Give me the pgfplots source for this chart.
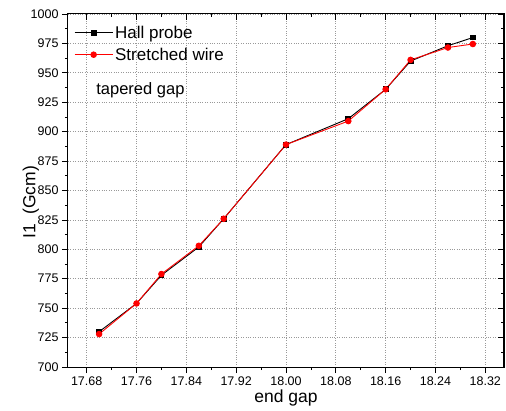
\documentclass[border=0pt]{standalone}
\usepackage{pgfplots}
\pgfplotsset{compat=1.18}
\usepackage{fontspec}
\setmainfont{Liberation Sans}

\begin{document}
\begin{tikzpicture}
\pgfplotsset{
  frame/.style={
    scale only axis, width=436pt, height=353pt,
    xmin=17.65, xmax=18.35, ymin=700, ymax=1000,
    xtick={17.68,17.76,17.84,17.92,18.00,18.08,18.16,18.24,18.32},
    ytick={700,725,750,775,800,825,850,875,900,925,950,975,1000},
    minor x tick num=1, minor y tick num=1,
    major tick length=6pt, minor tick length=3pt,
    every tick/.style={black, line width=0.8pt},
    axis line style={line width=1pt},
  },
}
% main axis: data, grid, labels, outward ticks on bottom and left
\begin{axis}[frame,
  xtick pos=bottom, ytick pos=left, tick align=outside,
  xticklabels={17.68,17.76,17.84,17.92,18.00,18.08,18.16,18.24,18.32},
  yticklabel style={/pgf/number format/1000 sep={}},
  /pgf/number format/assume math mode=true,
  ticklabel style={font=\fontsize{12.5}{15}\selectfont},
  xmajorgrids, ymajorgrids,
  grid style={gray!80, dotted, line width=0.7pt},
  xlabel={end gap}, ylabel={I1\kern9pt(Gcm)},
  label style={font=\fontsize{17.5}{20}\selectfont},
  x label style={at={(axis description cs:0.5,-0.088)}, anchor=center},
  y label style={at={(axis description cs:-0.085,0.467)}, anchor=center},
  legend style={at={(axis description cs:0.0,0.978)}, anchor=north west,
    xshift=4pt, draw=none, fill=none, font=\fontsize{17}{20}\selectfont,
    row sep=4pt, inner xsep=2pt, inner ysep=2pt,
    /tikz/every even column/.append style={column sep=3pt}},
  legend cell align=left,
  legend image code/.code={
    \draw[mark repeat=2, mark phase=2] plot coordinates {(0pt,0pt) (19pt,0pt) (38pt,0pt)};
  },
]
\addplot[black, line width=0.9pt, mark=square*, mark size=2.4pt] coordinates {
  (17.70,730) (17.76,754) (17.80,778) (17.86,802) (17.90,826) (18.00,889)
  (18.10,911) (18.16,936) (18.20,960) (18.26,973) (18.30,980)
};
\addlegendentry{Hall probe}
\addplot[red, line width=0.9pt, mark=*, mark size=2.8pt] coordinates {
  (17.70,728) (17.76,754) (17.80,779) (17.86,803) (17.90,826) (18.00,889)
  (18.10,909) (18.16,936) (18.20,961) (18.26,971.5) (18.30,974.5)
};
\addlegendentry{Stretched wire}
\node[anchor=west, font=\fontsize{16.5}{19}\selectfont] at (axis description cs:0.057,0.785) {tapered gap};
\end{axis}
% mirrored ticks on top and right, pointing inward
\begin{axis}[frame,
  xtick pos=top, ytick pos=right, tick align=inside,
  xticklabels={}, yticklabels={},
]
\end{axis}
\pgfresetboundingbox
\path (-68pt,-43pt) rectangle (438pt,367pt);
\end{tikzpicture}
\end{document}
